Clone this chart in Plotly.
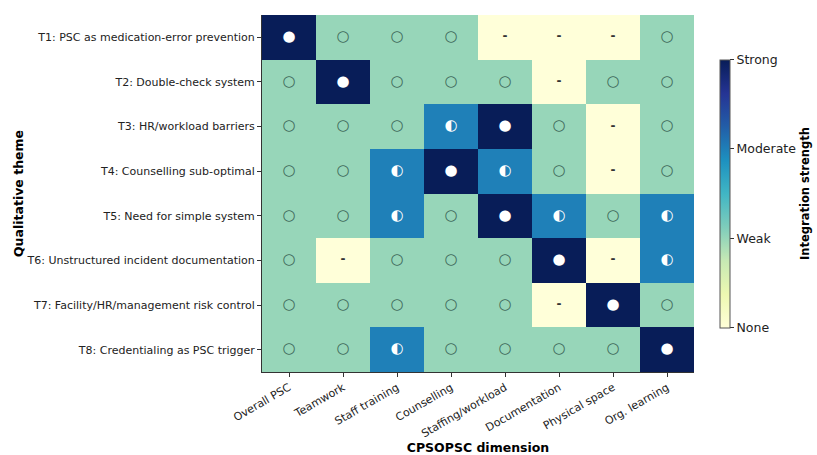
import plotly.graph_objects as go

themes = [
    "T1: PSC as medication-error prevention",
    "T2: Double-check system",
    "T3: HR/workload barriers",
    "T4: Counselling sub-optimal",
    "T5: Need for simple system",
    "T6: Unstructured incident documentation",
    "T7: Facility/HR/management risk control",
    "T8: Credentialing as PSC trigger",
]
dimensions = ["Overall PSC", "Teamwork", "Staff training", "Counselling",
              "Staffing/workload", "Documentation", "Physical space", "Org. learning"]
strength = [
    [3, 1, 1, 1, 0, 0, 0, 1],
    [1, 3, 1, 1, 1, 0, 1, 1],
    [1, 1, 1, 2, 3, 1, 0, 1],
    [1, 1, 2, 3, 2, 1, 0, 1],
    [1, 1, 2, 1, 3, 2, 1, 2],
    [1, 0, 1, 1, 1, 3, 0, 2],
    [1, 1, 1, 1, 1, 0, 3, 1],
    [1, 1, 2, 1, 1, 1, 1, 3],
]
level_labels = ["None", "Weak", "Moderate", "Strong"]
symbols = ["<b>-</b>", "○", "◐", "●"]
sym_colors = ["#333333", "#3b6658", "#ffffff", "#ffffff"]

ylgnbu = ["#ffffd9", "#edf8b1", "#c7e9b4", "#7fcdbb", "#41b6c4",
          "#1d91c0", "#225ea8", "#253494", "#081d58"]
cscale = [[i / (len(ylgnbu) - 1), c] for i, c in enumerate(ylgnbu)]

font = "DejaVu Sans"

fig = go.Figure()
fig.add_trace(go.Heatmap(
    z=strength, x=dimensions, y=themes, zmin=0, zmax=3,
    colorscale=cscale, hoverinfo="skip",
    colorbar=dict(
        thickness=10, len=0.75, y=0.5, yanchor="middle", ypad=0,
        x=1.0, xanchor="left", xpad=26,
        tickvals=[0, 1, 2, 3], ticktext=level_labels,
        ticks="outside", ticklen=4, tickcolor="#333",
        outlinecolor="#555", outlinewidth=1,
        tickfont=dict(family=font, size=12.5, color="#222"),
        title=dict(text="<b>Integration strength</b>", side="right",
                   font=dict(family=font, size=11.5, color="#000")),
    ),
))

xs, ys, ts, cs, ss = [], [], [], [], []
for i, row in enumerate(strength):
    for j, v in enumerate(row):
        xs.append(dimensions[j]); ys.append(themes[i])
        ts.append(symbols[v]); cs.append(sym_colors[v])
        ss.append(15 if v != 0 else 12)
fig.add_trace(go.Scatter(
    x=xs, y=ys, mode="text", text=ts, hoverinfo="skip",
    textfont=dict(family=font, size=ss, color=cs), showlegend=False,
))

fig.update_layout(
    width=817, height=455, paper_bgcolor="white", plot_bgcolor="white",
    margin=dict(l=262, r=123, t=15, b=83, autoexpand=False),
    font=dict(family=font, size=11, color="#222"),
    showlegend=False,
)
fig.update_xaxes(
    tickangle=-30, ticks="outside", ticklen=4, tickcolor="#333",
    showline=True, linecolor="#333", linewidth=1, showgrid=False, zeroline=False,
    tickfont=dict(family=font, size=11, color="#222"), automargin=False,
    title=dict(text="<b>CPSOPSC dimension</b>", font=dict(family=font, size=12.5, color="#000"), standoff=6),
)
fig.update_yaxes(
    autorange="reversed", ticks="outside", ticklen=4, tickcolor="#333",
    showline=True, linecolor="#333", linewidth=1, showgrid=False, zeroline=False,
    tickfont=dict(family=font, size=11, color="#222"), automargin=False,
    title=dict(text="<b>Qualitative theme</b>", font=dict(family=font, size=12.5, color="#000"), standoff=0),
)

fig.write_html("out.html", config={"displayModeBar": False},
               post_script="document.body.style.margin='0';document.body.style.padding='0';")
